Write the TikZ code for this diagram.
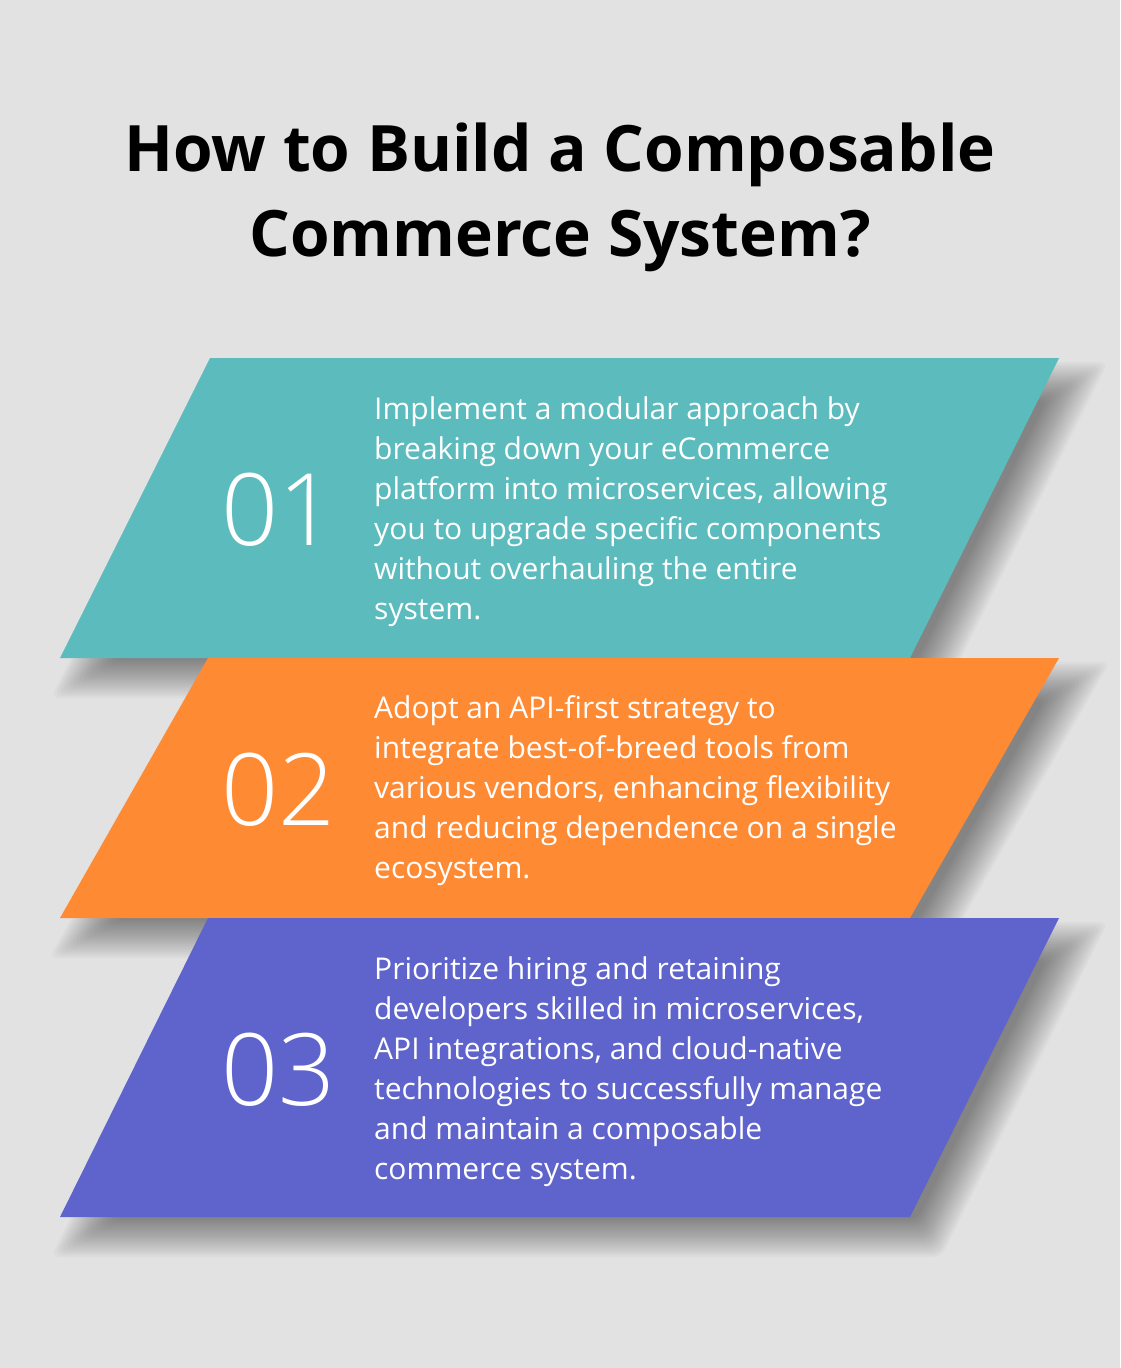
\documentclass[tikz,border=0pt]{standalone}
\usepackage{fontspec}
\setmainfont{Open Sans}
\newfontfamily\numfont{Open Sans Light}
\usetikzlibrary{positioning}
\definecolor{bggray}{RGB}{226,226,226}
\definecolor{stepteal}{RGB}{91,187,189}
\definecolor{steporange}{RGB}{255,138,52}
\definecolor{steppurple}{RGB}{95,99,204}
% soft shadow of a band: top-left x, top-right x, bottom-right x, bottom-left x, top y, bottom y
\newcommand{\bandshade}[6]{%
  \pgfmathsetmacro{\runx}{(#1-#4)/(#6-#5)}%
  \pgfmathsetmacro{\stretchf}{sqrt(1+\runx*\runx)}%
  \foreach \d in {-20,-18,...,18}{%
    \fill[black,fill opacity=0.025,rounded corners=8pt]
      ({#1+\runx*(\d)-\stretchf*(\d)+20},{#5-(\d)+22}) --
      ({#2+\runx*(\d)+\stretchf*(\d)+20},{#5-(\d)+22}) --
      ({#3-\runx*(\d)+\stretchf*(\d)+20},{#6+(\d)+22}) --
      ({#4-\runx*(\d)-\stretchf*(\d)+20},{#6+(\d)+22}) -- cycle;}}

\begin{document}
\begin{tikzpicture}[x=1pt,y=-1pt,
  numlabel/.style={anchor=west,text=white,inner sep=0pt,font=\numfont\fontsize{100}{100}\selectfont},
  bodytext/.style={anchor=west,text=white,inner sep=0pt,align=left,font=\fontsize{30}{40}\selectfont}]
\fill[bggray] (0,0) rectangle (1120,1368);
\useasboundingbox (0,0) rectangle (1120,1368);
\node[inner sep=0pt,align=center,font=\bfseries\fontsize{64}{85}\selectfont] (title) at (560,197) {How to Build a Composable\\Commerce System?};
% shadows first, so the next band covers them
\bandshade{210}{1059}{910}{60}{358}{658}
\bandshade{208}{1059}{910}{60}{658}{918}
\bandshade{208}{1059}{910}{60}{918}{1217}
\fill[stepteal] (210,358) -- (1059,358) -- (910,658) -- (60,658) -- cycle;
\fill[steporange] (208,658) -- (1059,658) -- (910,918) -- (60,918) -- cycle;
\fill[steppurple] (208,918) -- (1059,918) -- (910,1217) -- (60,1217) -- cycle;
\node[numlabel] (num1) at (221,510) {01};
\node[numlabel] (num2) at (221,790) {02};
\node[numlabel] (num3) at (221,1070) {03};
\node[bodytext] (text1) at (374,512) {Implement a modular approach by\\breaking down your eCommerce\\platform into microservices, allowing\\you to upgrade specific components\\without overhauling the entire\\system.};
\node[bodytext] (text2) at (374,791) {Adopt an API-first strategy to\\integrate best-of-breed tools from\\various vendors, enhancing flexibility\\and reducing dependence on a single\\ecosystem.};
\node[bodytext] (text3) at (374,1072) {Prioritize hiring and retaining\\developers skilled in microservices,\\API integrations, and cloud-native\\technologies to successfully manage\\and maintain a composable\\commerce system.};
\end{tikzpicture}
\end{document}
